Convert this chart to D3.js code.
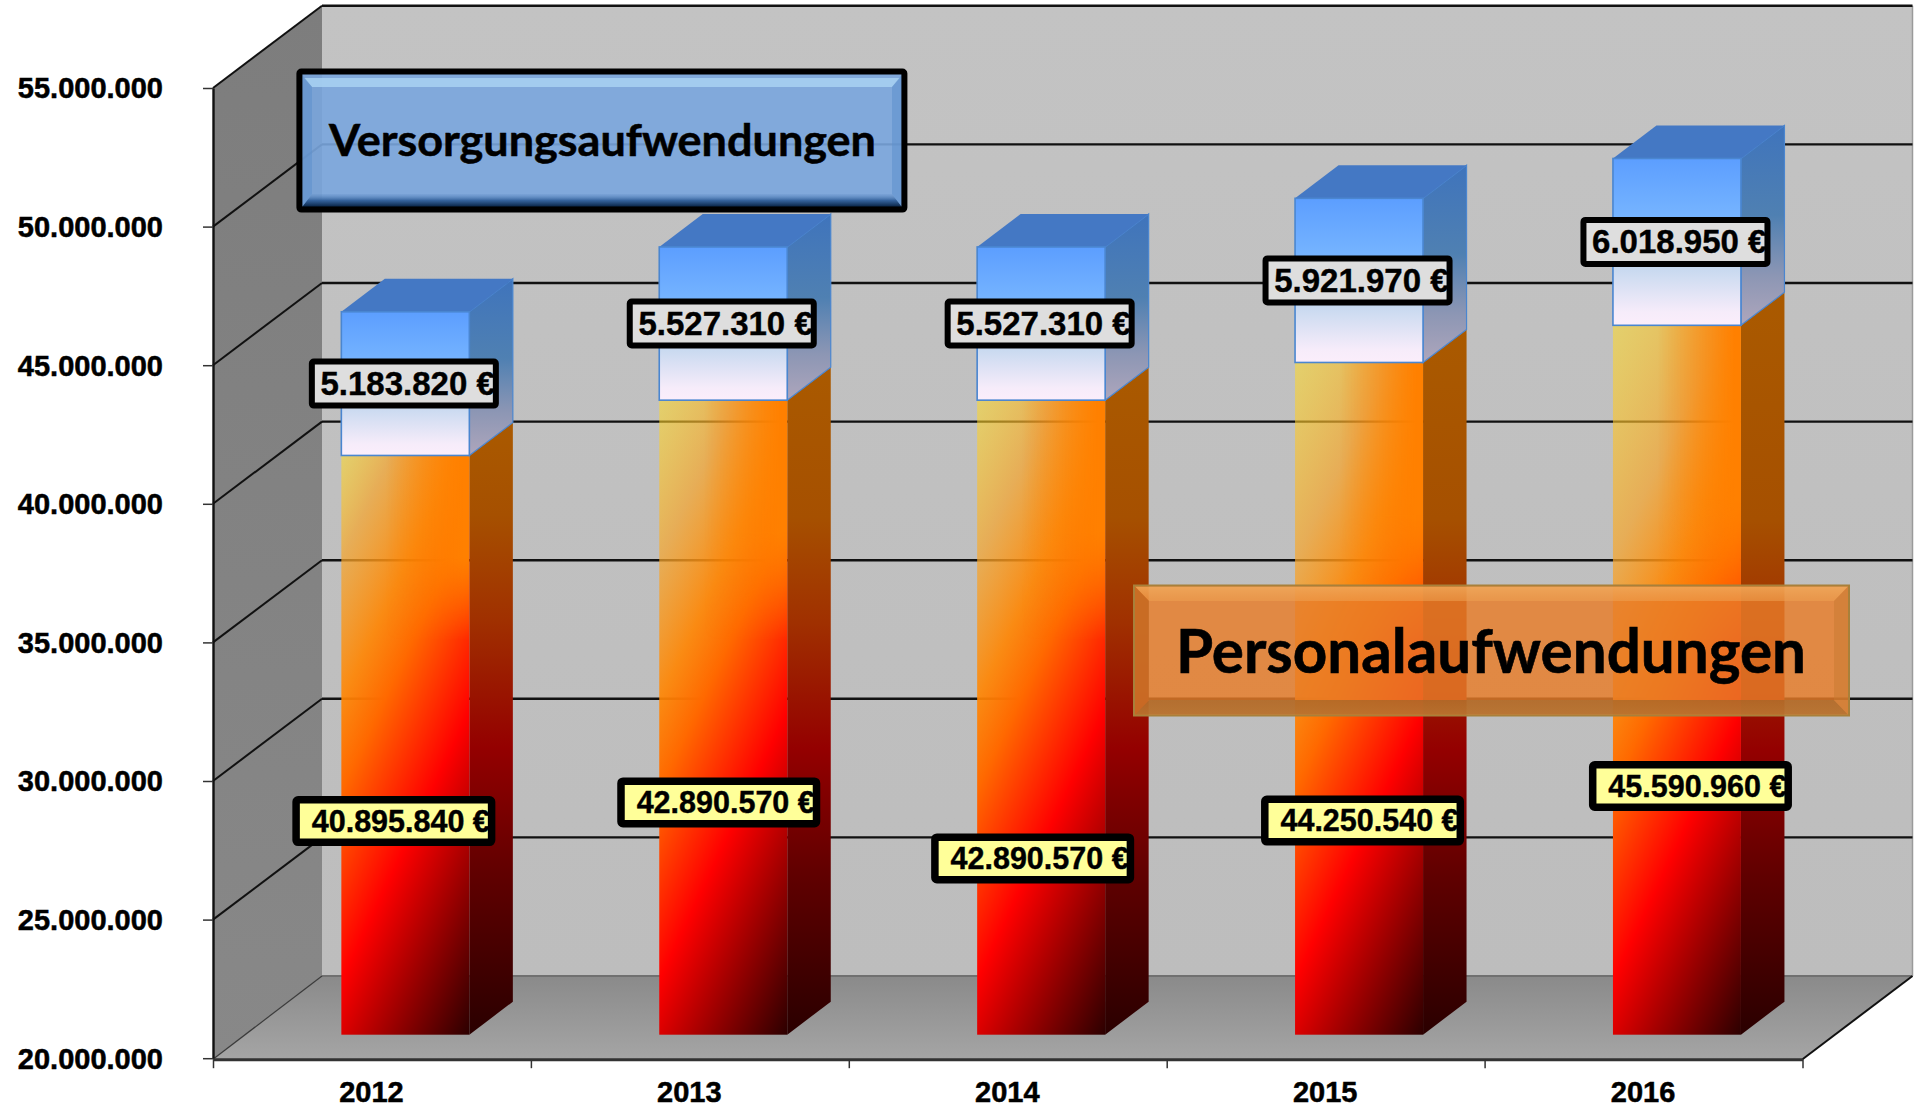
<!DOCTYPE html>
<html><head><meta charset="utf-8">
<script src="https://cdn.jsdelivr.net/npm/d3@7/dist/d3.min.js"></script>
<style>html,body{margin:0;padding:0;background:#fff;overflow:hidden}svg{display:block}</style>
</head><body><svg id="c" width="1915" height="1108"></svg>
<script>
const years = ["2012","2013","2014","2015","2016"];
const personal = [40895840,42890570,42890570,44250540,45590960];
const pension = [5183820,5527310,5527310,5921970,6018950];
const yTicks = [20000000,25000000,30000000,35000000,40000000,45000000,50000000,55000000];
const personalTitle = "Personalaufwendungen";
const pensionTitle = "Versorgungsaufwendungen";
// hand-placed offsets of the yellow labels, relative to bar centre / segment middle
const nudgeX = [-11,-4,-8,4,14];
const nudgeY = [76,85,141,122,106];

const svg = d3.select("#c");
const defs = svg.append("defs");
const F = "'Liberation Sans',Arial,sans-serif";
const L = {x0:213,x1:1802.5,yTop:88,yBot:1058.2,dx:109,dy:82.2,barW:128,barDx:43.5,barDy:33,zx:33.4,zy:23.5};
const y = d3.scaleLinear().domain([20000000,55000000]).range([L.yBot,L.yTop]);
const x = d3.scaleBand().domain(years).range([L.x0,L.x1]);
const edge = d3.scaleLinear().domain([0,years.length]).range([L.x0,L.x1]);
const loc = d3.formatLocale({decimal:",",thousands:".",grouping:[3],currency:["","€"]});
const fmt = loc.format(",d");
const poly = pts => pts.map(p=>p.join(",")).join(" ");

function grad(id,attrs,stops){
  const g = defs.append("linearGradient").attr("id",id);
  Object.entries(attrs).forEach(([k,v])=>g.attr(k,v));
  stops.forEach(s=>g.append("stop").attr("offset",s[0]).attr("stop-color",s[1]).attr("stop-opacity",s[2]===undefined?1:s[2]));
}
const V = {x1:0,y1:0,x2:0,y2:1};
grad("floor",V,[[0,"#8a8a8a"],[1,"#a5a5a5"]]);
grad("wallL",V,[[0,"#7d7d7d"],[1,"#888888"]]);
grad("wallB",V,[[0,"#c3c3c3"],[1,"#bdbdbd"]]);
grad("blueF",V,[[0,"#5c9eff"],[.38,"#78b6ff"],[.62,"#c0d6ee"],[.92,"#f6ecfa"],[1,"#fbeefb"]]);
grad("blueS",V,[[0,"#3f74bc"],[.45,"#4f80b2"],[.75,"#8c96b4"],[1,"#aea6bc"]]);
grad("blueBot",V,[[0,"#5f8cc4",.2],[.5,"#2c5a94",.9],[1,"#062040"]]);
grad("oraTop",V,[[0,"#f2ae60",.75],[1,"#eea050",.55]]);
grad("oraBot",V,[[0,"#a06428",.7],[1,"#b07030",.8]]);
grad("oraH",{x1:0,y1:0,x2:1,y2:0},[[.35,"#ff8400",0],[.95,"#ff8000",1],[1,"#ff8000",1]]);

// walls and floor
const g = svg.append("g");
const yT = y(55000000)-L.dy, yB = y(20000000)-L.dy, bx0 = L.x0+L.dx, bx1 = L.x1+L.dx+1, fy = L.yBot+1;
g.append("rect").attr("x",bx0).attr("y",yT).attr("width",bx1-bx0).attr("height",yB-yT).attr("fill","url(#wallB)");
g.append("polygon").attr("points",poly([[L.x0,y(55000000)],[bx0,yT],[bx0,yB],[L.x0,fy]])).attr("fill","url(#wallL)");
g.append("polygon").attr("points",poly([[L.x0,fy],[L.x1,fy],[bx1,yB],[bx0,yB]])).attr("fill","url(#floor)");
g.append("line").attr("x1",bx0).attr("x2",bx1).attr("y1",yB).attr("y2",yB).attr("stroke","#707070").attr("stroke-width",2);
g.append("line").attr("x1",bx1).attr("x2",bx1).attr("y1",yT).attr("y2",yB).attr("stroke","#9a9a9a").attr("stroke-width",1.5);
g.append("line").attr("x1",L.x0).attr("x2",bx0).attr("y1",fy).attr("y2",yB).attr("stroke","#3a3a3a").attr("stroke-width",1.2);
g.append("line").attr("x1",L.x1).attr("x2",bx1).attr("y1",fy).attr("y2",yB).attr("stroke","#111").attr("stroke-width",2);

// gridlines
yTicks.filter(t=>t>20000000).forEach(t=>{
  const yb = y(t)-L.dy;
  g.append("line").attr("x1",L.x0).attr("y1",y(t)).attr("x2",bx0).attr("y2",yb).attr("stroke","#111").attr("stroke-width",2);
  g.append("line").attr("x1",bx0).attr("y1",yb).attr("x2",bx1).attr("y2",yb).attr("stroke","#111").attr("stroke-width",2.4);
});

// axes
const ax = svg.append("g").attr("transform",`translate(${L.x0},0)`)
  .call(d3.axisLeft(y).tickValues(yTicks).tickSize(10).tickSizeOuter(0).tickPadding(40).tickFormat(fmt));
ax.select(".domain").attr("stroke","#111").attr("stroke-width",2.4);
ax.selectAll(".tick line").attr("stroke","#333").attr("stroke-width",1.5);
ax.selectAll("text").attr("dy","0.34em").attr("font-family",F).attr("font-weight","bold").attr("font-size",29).attr("fill","#000").attr("stroke","#000").attr("stroke-width",.5);
const ab = svg.append("g").attr("transform",`translate(0,${fy})`)
  .call(d3.axisBottom(edge).tickValues(d3.range(years.length+1)).tickSize(9).tickSizeOuter(0).tickFormat(""));
ab.select(".domain").attr("stroke","#333").attr("stroke-width",3);
ab.selectAll(".tick line").attr("stroke","#333").attr("stroke-width",1.5);
const al = svg.append("g").attr("transform",`translate(-0.5,${fy})`)
  .call(d3.axisBottom(x).tickSize(0).tickPadding(22));
al.select(".domain").remove();
al.selectAll("text").attr("font-family",F).attr("font-weight","bold").attr("font-size",29).attr("fill","#000").attr("stroke","#000").attr("stroke-width",.5);

// bars
const bars = svg.append("g");
years.forEach((yr,i)=>{
  const bx = x(yr)+L.zx+(x.bandwidth()-L.barW)/2;
  const bb = y(20000000)-L.zy, bm = y(personal[i])-L.zy, bt = y(personal[i]+pension[i])-L.zy;
  const w = L.barW, dx=L.barDx, dy=L.barDy;
  // u = y + 2.1*(x-left): gradient runs diagonally across the bar
  const k = 2.1, u0 = bm, u1 = 1303;
  const f = (u1-u0)/(k*k+1);
  const stops = [[u0,"rgb(255,220,40)",.55],[560,"rgb(246,166,46)",.72],[700,"rgb(255,134,4)",.92],[790,"rgb(255,105,0)",1],[980,"#ff0000",1],[1303,"#2c0000",1]];
  grad("ora"+i,{gradientUnits:"userSpaceOnUse",x1:bx,y1:u0,x2:bx+k*f,y2:u0+f},stops.map(s=>[(s[0]-u0)/(u1-u0),s[1],s[2]]));
  const sideStop = v=>(v-(bm-dy))/(bb-bm);
  grad("oraS"+i,{gradientUnits:"userSpaceOnUse",x1:0,y1:bm-dy,x2:0,y2:bb},[[0,"#aa5a00"],[Math.max(0,sideStop(510)),"#a65000"],[sideStop(610),"#a03000"],[sideStop(730),"#940000"],[sideStop(850),"#600000"],[1,"#2a0000"]]);
  // fade for the right-hand orange wash in the upper part of the bar
  grad("oraFade"+i,{gradientUnits:"userSpaceOnUse",x1:0,y1:bm,x2:0,y2:640},[[0,"#fff"],[.55,"#fff"],[1,"#000"]]);
  const m = defs.append("mask").attr("id","oraMask"+i).attr("maskUnits","userSpaceOnUse").attr("x",bx).attr("y",bm).attr("width",w).attr("height",bb-bm);
  m.append("rect").attr("x",bx).attr("y",bm).attr("width",w).attr("height",bb-bm).attr("fill",`url(#oraFade${i})`);
  bars.append("polygon").attr("points",poly([[bx+w,bm],[bx+w+dx,bm-dy],[bx+w+dx,bb-dy],[bx+w,bb]])).attr("fill",`url(#oraS${i})`);
  bars.append("rect").attr("x",bx).attr("y",bm).attr("width",w).attr("height",bb-bm).attr("fill",`url(#ora${i})`);
  bars.append("rect").attr("x",bx).attr("y",bm).attr("width",w).attr("height",bb-bm).attr("fill","url(#oraH)").attr("mask",`url(#oraMask${i})`);
  bars.append("polygon").attr("points",poly([[bx+w,bt],[bx+w+dx,bt-dy],[bx+w+dx,bm-dy],[bx+w,bm]])).attr("fill","url(#blueS)").attr("stroke","#4a86d0").attr("stroke-width",1.2);
  bars.append("polygon").attr("points",poly([[bx,bt],[bx+dx,bt-dy],[bx+w+dx,bt-dy],[bx+w,bt]])).attr("fill","#4478c4");
  bars.append("rect").attr("x",bx).attr("y",bt).attr("width",w).attr("height",bm-bt).attr("fill","url(#blueF)").attr("stroke","#4a86d0").attr("stroke-width",1.6);
});

// value labels
function label(cx,cy,w,h,b,fill,size,txt){
  const G = svg.append("g");
  G.append("rect").attr("x",cx-w/2+b/2).attr("y",cy-h/2+b/2).attr("width",w-b).attr("height",h-b)
    .attr("fill",fill).attr("stroke","#000").attr("stroke-width",b).attr("rx",2);
  G.append("text").attr("x",cx+w/2-b+2).attr("y",cy+size*.35).attr("text-anchor","end")
    .attr("font-family",F).attr("font-weight","bold").attr("font-size",size).attr("fill","#000").attr("stroke","#000").attr("stroke-width",.4).text(txt);
}
years.forEach((yr,i)=>{
  const bc = x(yr)+L.zx+x.bandwidth()/2;
  const bb = y(20000000)-L.zy, bm = y(personal[i])-L.zy, bt = y(personal[i]+pension[i])-L.zy;
  label(bc-1.5,(bt+bm)/2,190,50,6,"#dedede",33,fmt(pension[i])+" €");
  label(bc+nudgeX[i]-.5,(bm+bb)/2+nudgeY[i],203,50,7.5,"#ffff99",30.5,fmt(personal[i])+" €");
});

// series boxes
const bl = svg.append("g");
bl.append("rect").attr("x",299.4).attr("y",71.6).attr("width",605).attr("height",138).attr("fill","#7aa6de").attr("fill-opacity",.9);
bl.append("polygon").attr("points",poly([[304,78],[900,78],[892,87],[312,87]])).attr("fill","#a9d2f2").attr("fill-opacity",.85);
bl.append("polygon").attr("points",poly([[302,207],[902,207],[892,194],[312,194]])).attr("fill","url(#blueBot)");
bl.append("polygon").attr("points",poly([[302,74.6],[312,87],[312,194],[302,207]])).attr("fill","#5d8fcc").attr("fill-opacity",.55);
bl.append("polygon").attr("points",poly([[902,74.6],[892,87],[892,194],[902,207]])).attr("fill","#5d8fcc").attr("fill-opacity",.55);
bl.append("rect").attr("x",299.4).attr("y",71.6).attr("width",605).attr("height",138).attr("fill","none").attr("stroke","#000").attr("stroke-width",6).attr("rx",2);
bl.append("text").attr("x",329).attr("y",156).attr("textLength",547).attr("lengthAdjust","spacingAndGlyphs")
  .attr("font-family","Lato,sans-serif").attr("font-weight","bold").attr("font-size",43).attr("fill","#000").attr("stroke","#000").attr("stroke-width",.5).text(pensionTitle);

const ob = svg.append("g");
ob.append("rect").attr("x",1134).attr("y",585.5).attr("width",715).attr("height",130).attr("fill","#e87c28").attr("fill-opacity",.82);
ob.append("polygon").attr("points",poly([[1135,586.5],[1848,586.5],[1834,601],[1149,601]])).attr("fill","url(#oraTop)");
ob.append("polygon").attr("points",poly([[1135,714.5],[1848,714.5],[1834,700],[1149,700]])).attr("fill","url(#oraBot)");
ob.append("polygon").attr("points",poly([[1135,586.5],[1149,601],[1149,700],[1135,714.5]])).attr("fill","#b86a28").attr("fill-opacity",.5);
ob.append("polygon").attr("points",poly([[1848,586.5],[1834,601],[1834,700],[1848,714.5]])).attr("fill","#c87a30").attr("fill-opacity",.5);
ob.append("rect").attr("x",1134).attr("y",585.5).attr("width",715).attr("height",130).attr("fill","none").attr("stroke","#a8803a").attr("stroke-width",2);
ob.append("text").attr("x",1176).attr("y",673).attr("textLength",630).attr("lengthAdjust","spacingAndGlyphs")
  .attr("font-family","Lato,sans-serif").attr("font-weight","bold").attr("font-size",61).attr("fill","#000").attr("stroke","#000").attr("stroke-width",.6).text(personalTitle);
</script></body></html>
